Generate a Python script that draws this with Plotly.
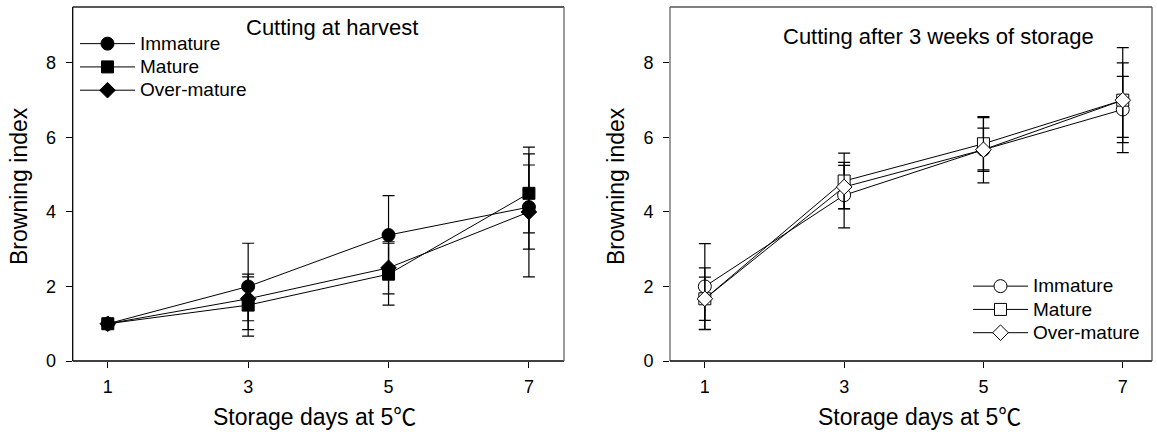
import plotly.graph_objects as go

# ---- data ----
days = [1, 3, 5, 7]
x_ticks = [1, 3, 5, 7]
y_ticks = [0, 2, 4, 6, 8]
series_names = ["Immature", "Mature", "Over-mature"]

harvest_immature = [1.0, 2.0, 3.38, 4.13]
harvest_immature_err = [0.0, 1.16, 1.06, 1.13]
harvest_mature = [1.0, 1.5, 2.33, 4.5]
harvest_mature_err = [0.0, 0.83, 0.83, 1.06]
harvest_over = [1.0, 1.67, 2.5, 4.0]
harvest_over_err = [0.0, 0.59, 0.70, 1.74]

storage_immature = [2.0, 4.45, 5.67, 6.75]
storage_immature_err = [1.15, 0.88, 0.89, 0.89]
storage_mature = [1.67, 4.83, 5.83, 7.0]
storage_mature_err = [0.83, 0.75, 0.70, 1.41]
storage_over = [1.67, 4.67, 5.67, 7.0]
storage_over_err = [0.58, 0.58, 0.58, 1.00]

FONT = "Liberation Sans, Arial, sans-serif"
W, H = 1157, 432

symbols = ["circle", "square", "diamond"]
sizes = [13, 12, 12]

fig = go.Figure()

left_sets = [(harvest_immature, harvest_immature_err),
             (harvest_mature, harvest_mature_err),
             (harvest_over, harvest_over_err)]
right_sets = [(storage_immature, storage_immature_err),
              (storage_mature, storage_mature_err),
              (storage_over, storage_over_err)]


def legend_label(name):
    return "<span style='font-size:19px'>" + name + "</span>"


for i, (vals, err) in enumerate(left_sets):
    fig.add_trace(go.Scatter(
        x=days, y=vals, name=legend_label(series_names[i]), mode="lines+markers",
        xaxis="x", yaxis="y", legend="legend",
        line=dict(color="black", width=1),
        marker=dict(symbol=symbols[i], size=sizes[i], color="black",
                    line=dict(color="black", width=1)),
        error_y=dict(type="data", array=err, visible=True, color="black",
                     thickness=1.2, width=6),
    ))

for i, (vals, err) in enumerate(right_sets):
    fig.add_trace(go.Scatter(
        x=days, y=vals, name=legend_label(series_names[i]), mode="lines+markers",
        xaxis="x2", yaxis="y2", legend="legend2",
        line=dict(color="black", width=1),
        marker=dict(symbol=symbols[i], size=sizes[i], color="white",
                    line=dict(color="black", width=1)),
        error_y=dict(type="data", array=err, visible=True, color="black",
                     thickness=1.2, width=6),
    ))

ydom = [1 - 361 / H, 1 - 7 / H]
xdom1 = [72.7 / W, 564 / W]
xdom2 = [670 / W, 1152 / W]

axis_common = dict(showgrid=False, zeroline=False, showline=False,
                   ticks="outside", ticklen=6, tickwidth=1, tickcolor="black",
                   tickfont=dict(family=FONT, size=18, color="black"),
                   automargin=False)

leg_common = dict(xanchor="left", yanchor="top", bgcolor="rgba(0,0,0,0)",
                  borderwidth=0, itemwidth=55, tracegroupgap=0,
                  font=dict(family=FONT, size=15.6, color="black"))

fig.update_layout(
    width=W, height=H,
    margin=dict(l=0, r=0, t=0, b=0),
    paper_bgcolor="white", plot_bgcolor="white",
    font=dict(family=FONT, color="black"),
    xaxis=dict(domain=xdom1, range=[0.5, 7.5], tickvals=x_ticks, anchor="y",
               ticklabelstandoff=3, **axis_common),
    yaxis=dict(domain=ydom, range=[0, 9.5], tickvals=y_ticks, anchor="x",
               ticklabelstandoff=6, **axis_common),
    xaxis2=dict(domain=xdom2, range=[0.5, 7.42], tickvals=x_ticks, anchor="y2",
                ticklabelstandoff=3, **axis_common),
    yaxis2=dict(domain=ydom, range=[0, 9.5], tickvals=y_ticks, anchor="x2",
                ticklabelstandoff=6, **axis_common),
    legend=dict(x=75 / W, y=1 - 27 / H, **leg_common),
    legend2=dict(x=968 / W, y=1 - 269.5 / H, **leg_common),
    showlegend=True,
)


# frame lines
def frame(xr, yr, colors):
    left_c, bottom_c, top_c, right_c = colors
    edges = [(0, 0, 0, 1, left_c), (0, 0, 1, 0, bottom_c),
             (0, 1, 1, 1, top_c), (1, 0, 1, 1, right_c)]
    for x0, y0, x1, y1, c in edges:
        fig.add_shape(type="line", xref=xr + " domain", yref=yr + " domain",
                      x0=x0, y0=y0, x1=x1, y1=y1,
                      line=dict(color=c, width=1.3), layer="above")


frame("x", "y", ["black", "black", "#222", "#666"])
frame("x2", "y2", ["#666", "black", "#555", "#555"])

# titles
ann_font = dict(family=FONT, size=22, color="black")
ann_common = dict(xref="paper", yref="paper", showarrow=False,
                  xanchor="center", yanchor="middle")
fig.add_annotation(text="Cutting at harvest", x=332 / W, y=1 - 28 / H,
                   font=ann_font, **ann_common)
fig.add_annotation(text="Cutting after 3 weeks of storage", x=938 / W, y=1 - 36 / H,
                   font=ann_font, **ann_common)
x_title = "Storage days at 5<span style=\"font-family:'Noto Sans CJK SC'\">℃</span>"
for xc in (314 / W, 919 / W):
    fig.add_annotation(text=x_title, x=xc, y=1 - 415 / H,
                       font=dict(family=FONT, size=23, color="black"), **ann_common)
for xc in (19 / W, 616 / W):
    fig.add_annotation(text="Browning index", x=xc, y=1 - 186 / H, textangle=-90,
                       font=dict(family=FONT, size=23, color="black"), **ann_common)

fig.write_html("out.html")
